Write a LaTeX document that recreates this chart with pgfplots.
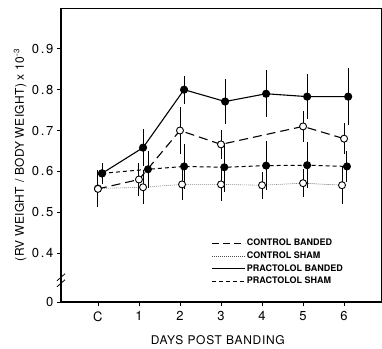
\documentclass[border=0pt]{standalone}
\usepackage{fontspec}
\setmainfont{TeX Gyre Heros}
\usepackage{pgfplots}
\pgfplotsset{compat=1.18}
\usepackage{pgfplotstable}

\pgfplotstableread{
x y e
0 0.558 0.045
1.1 0.561 0.042
2.05 0.568 0.038
3.0 0.568 0.040
4.0 0.566 0.033
5.0 0.571 0.034
5.95 0.566 0.046
}\cs
\pgfplotstableread{
x y e
0.1 0.595 0.025
1.22 0.605 0.045
2.1 0.612 0.055
3.08 0.610 0.060
4.1 0.614 0.060
5.1 0.615 0.057
6.07 0.612 0.037
}\ps
\pgfplotstableread{
x y e
0 0.557 0.045
1.0 0.580 0.040
2.0 0.700 0.058
3.0 0.666 0.035
5.0 0.710 0.037
6.0 0.680 0.038
}\cb
\pgfplotstableread{
x y e
0.1 0.595 0.025
1.1 0.658 0.045
2.1 0.800 0.034
3.1 0.771 0.055
4.1 0.790 0.058
5.1 0.783 0.055
6.1 0.783 0.070
}\pb

\begin{document}
\begin{tikzpicture}
\begin{axis}[name=ax, scale only axis, width=320pt, height=294pt,
  xmin=-0.9, xmax=6.9, ymin=0.28, ymax=1.0,
  xtick={0,...,6}, xticklabels={C,1,2,3,4,5,6},
  ytick={0.28,0.4,0.5,0.6,0.7,0.8,0.9}, yticklabels={0,0.4,0.5,0.6,0.7,0.8,0.9},
  tick align=outside, xtick pos=bottom, ytick pos=left, major tick length=4pt,
  axis line style={line width=0.6pt},
  tick style={line width=0.8pt, black},
  ticklabel style={font=\fontsize{13}{15}\selectfont\addfontfeatures{LetterSpace=14}},
  xticklabel style={yshift=-2pt},
  xlabel={DAYS POST BANDING},
  ylabel={(RV WEIGHT / BODY WEIGHT) x 10\textsuperscript{-3}},
  every axis x label/.style={at={(axis description cs:0.49,-0.13)},anchor=center,font=\fontsize{12}{14}\selectfont\addfontfeatures{LetterSpace=6}},
  every axis y label/.style={at={(axis description cs:-0.128,0.5)},rotate=90,anchor=center,font=\fontsize{12}{14}\selectfont\addfontfeatures{LetterSpace=3}},
  legend style={at={(axis description cs:0.47,0.218)}, anchor=north west, draw=none, fill=none, inner sep=0pt,
    font=\fontsize{9}{11}\selectfont\bfseries, row sep=2.5pt, nodes={inner sep=1pt}},
  legend cell align=left,
  legend image code/.code={\draw[#1] (0pt,0pt) -- (33pt,0pt);},
  clip=false,
]
\addlegendimage{black, line width=1.3pt, dash pattern=on 7pt off 4pt}
\addlegendentry{CONTROL BANDED}
\addlegendimage{black!70, line width=0.6pt, dash pattern=on 0.8pt off 1.2pt}
\addlegendentry{CONTROL SHAM}
\addlegendimage{black, line width=1.3pt}
\addlegendentry{PRACTOLOL BANDED}
\addlegendimage{black, line width=1.2pt, dash pattern=on 4pt off 3pt}
\addlegendentry{PRACTOLOL SHAM}

\addplot[forget plot, black!70, line width=0.6pt, dash pattern=on 0.8pt off 1.2pt, mark=*, mark size=3.5pt,
  mark options={solid, fill=white, draw=black, line width=0.9pt},
  error bars/.cd, y dir=both, y explicit, error mark=none, error bar style={solid, black, line width=0.9pt}]
  table[x=x, y=y, y error=e] {\cs};
\addplot[forget plot, black, line width=1.0pt, dash pattern=on 4pt off 3pt, mark=*, mark size=3.5pt,
  mark options={solid, fill=black},
  error bars/.cd, y dir=both, y explicit, error mark=none, error bar style={solid, line width=0.9pt}]
  table[x=x, y=y, y error=e] {\ps};
\addplot[forget plot, black, line width=1.1pt, dash pattern=on 9pt off 5pt, mark=*, mark size=3.5pt,
  mark options={solid, fill=white, line width=0.9pt},
  error bars/.cd, y dir=both, y explicit, error mark=none, error bar style={solid, line width=0.9pt}]
  table[x=x, y=y, y error=e] {\cb};
\addplot[forget plot, black, line width=1.1pt, mark=*, mark size=3.5pt,
  mark options={solid, fill=black},
  error bars/.cd, y dir=both, y explicit, error mark=none, error bar style={solid, line width=0.9pt}]
  table[x=x, y=y, y error=e] {\pb};

\draw[line width=1.1pt] (rel axis cs:0,0) -- (rel axis cs:1,0);
\draw[line width=1.1pt] (rel axis cs:0,0) -- (rel axis cs:0,1);
\fill[white] (rel axis cs:0,0.062) ++(-3pt,0) rectangle ++(6pt,6pt);
\draw[line width=0.8pt] (rel axis cs:0,0.062) ++(-4pt,-3pt) -- ++(8pt,7pt);
\draw[line width=0.8pt] (rel axis cs:0,0.062) ++(-4pt,3pt) -- ++(8pt,7pt);
\end{axis}
\pgfresetboundingbox
\path[use as bounding box] (ax.south west) ++(-61pt,-46pt) rectangle ++(382pt,348pt);
\end{tikzpicture}
\end{document}
